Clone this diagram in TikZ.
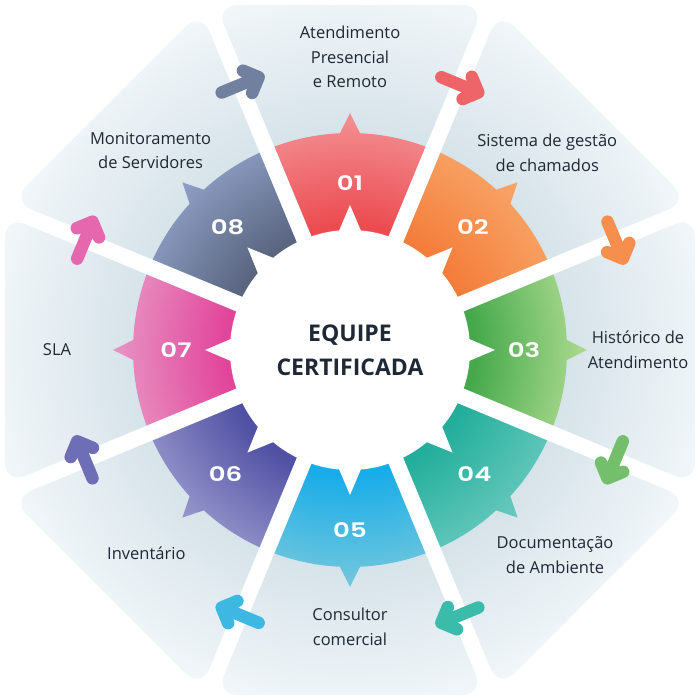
\documentclass[tikz,border=0pt]{standalone}
\usepackage{fontspec}
\setmainfont{Open Sans}
\newfontfamily\wheelnumfont[FakeStretch=1.3, UprightFont=* SemiBold, BoldFont=* SemiBold]{Poppins}
\usetikzlibrary{calc}

\definecolor{panellight}{HTML}{F2F7FA}
\definecolor{paneldark}{HTML}{D2E0E7}
\definecolor{wheeltext}{HTML}{1E2935}
\colorlet{segin}{black}
\colorlet{segout}{white}

\newcommand\wheelinner{120}
\newcommand\wheelouter{217}
\newcommand\wheeltip{237}
\newcommand\panelcorner{370.2}

\pgfdeclareradialshading{panelshade}{\pgfpoint{0bp}{0bp}}{%
  color(0bp)=(paneldark); color(13bp)=(paneldark);
  color(25bp)=(panellight); color(50bp)=(panellight)}
\pgfdeclareradialshading[segin,segout]{segshade}{\pgfpoint{0bp}{0bp}}{%
  color(0bp)=(segin); color(13bp)=(segin);
  color(24bp)=(segout); color(50bp)=(segout)}

\tikzset{
  wheelnum/.style={text=white, font=\wheelnumfont\fontsize{20}{20}\selectfont},
  wheellabel/.style={text=wheeltext, align=center, font=\fontsize{16.5}{24.5}\selectfont},
  wheelhub/.style={text=wheeltext, align=center, font=\bfseries\fontsize{23}{34}\selectfont},
  wheelarrow/.style={line width=12.5pt, line cap=round, line join=round},
}

\begin{document}
\begin{tikzpicture}[x=1pt, y=1pt]
  \useasboundingbox (-350,-350) rectangle (350,350);

  % panels behind the wheel
  \begin{scope}
    \clip[rounded corners=22pt] foreach \a in {90,45,...,-225}
      {(\a:20.9) -- (\a+21.27:\panelcorner) -- (\a-21.27:\panelcorner) -- cycle};
    \shade[shading=panelshade] (0,0) circle (370);
  \end{scope}

  % coloured segments, numbers and arrows
  \foreach \k/\n/\cin/\cout/\cmid in {1/167/EC4B50/F38C8F/EF6468,
      2/174/F47D3A/F8A466/F68F4E, 3/174/45A84B/A8D88C/74BF6B,
      4/176/22AE9A/66C8BE/3BBBAA, 5/180/18ACE8/70C6DC/3DB8E2,
      6/176/5050A4/9494CA/6E6EB6, 7/174/E2449A/E890C2/E567AE,
      8/173/5A6680/8C9CC2/72809F} {
    \pgfmathsetmacro\a{90-45*(\k-1)}
    \pgfmathsetmacro\g{\a-22.5}
    \definecolor{segin}{HTML}{\cin}
    \definecolor{segout}{HTML}{\cout}
    \definecolor{segmid}{HTML}{\cmid}
    \begin{scope}
      \clip (\a:20.9) -- (\a-20.36:\wheelouter)
        arc[start angle=\a-20.36, end angle=\a-2.64, radius=\wheelouter]
        -- (\a:\wheeltip) -- (\a+2.64:\wheelouter)
        arc[start angle=\a+2.64, end angle=\a+20.36, radius=\wheelouter] -- cycle;
      \shade[shading=segshade] (0,0) circle (240);
    \end{scope}
    \node[wheelnum] (num\k) at (\a:\n) {0\k};
    \coordinate (tail\k) at ($(\g:287)+(\g+90:20)$);
    \coordinate (head\k) at ($(\g:287)+(\g-90:20)$);
    \draw[wheelarrow, draw=segmid] (tail\k) -- (head\k)
      ($(head\k)!17pt!45:(tail\k)$) -- (head\k) -- ($(head\k)!17pt!-45:(tail\k)$);
  }

  % white hub with teeth
  \fill[white] (0,0) circle (\wheelinner);
  \foreach \a in {90,45,...,-225}
    \fill[white] (\a-5.7:118) -- (\a:145) -- (\a+5.7:118) -- cycle;
  \node[wheelhub] (hub) at (0,0) {EQUIPE\\CERTIFICADA};

  % texts round the wheel
  \foreach \k/\r/\txt in {1/293/{Atendimento\\Presencial\\e Remoto},
      2/279/{Sistema de gestão\\de chamados}, 3/288/{Histórico de\\Atendimento},
      4/290/{Documentação\\de Ambiente}, 5/277/{Consultor\\comercial},
      6/288/{Inventário}, 7/293/{SLA}, 8/282/{Monitoramento\\de Servidores}} {
    \pgfmathsetmacro\a{90-45*(\k-1)}
    \node[wheellabel] (label\k) at (\a:\r) {\txt};
  }
\end{tikzpicture}
\end{document}
